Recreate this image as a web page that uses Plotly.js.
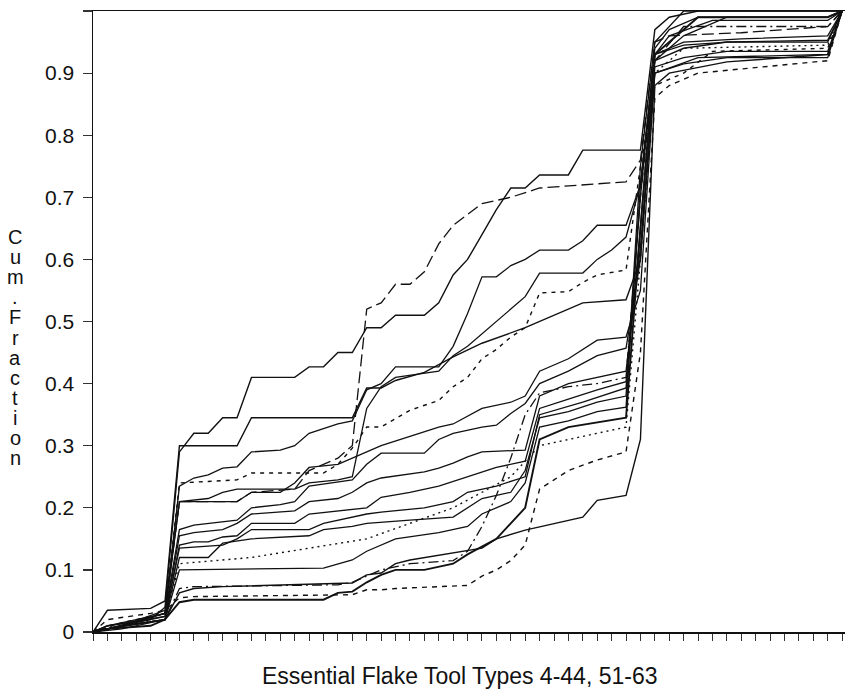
<!DOCTYPE html>
<html>
<head>
<meta charset="utf-8">
<script src="https://cdn.plot.ly/plotly-3.0.1.min.js"></script>
<style>html,body{margin:0;padding:0;background:#fff;}#chart{width:849px;height:689px;}</style>
</head>
<body>
<div id="chart"></div>
<script>
// x positions are indices of the tool-type ticks (0..52)
const typeTicks = [0,1,2,3,4,5,6,7,8,9,10,11,12,13,14,15,16,17,18,19,20,21,22,23,24,25,26,27,28,29,30,31,32,33,34,35,36,37,38,39,40,41,42,43,44,45,46,47,48,49,50,51,52];
const yTickVals = [0,0.1,0.2,0.3,0.4,0.5,0.6,0.7,0.8,0.9,1.0];
const yTickText = ['0','0.1','0.2','0.3','0.4','0.5','0.6','0.7','0.8','0.9',''];
const xTitle = 'Essential Flake Tool Types 4-44, 51-63';
const yTitleLetters = ['C','u','m','.','F','r','a','c','t','i','o','n'];

const xA = [0,1,4,5,6,7,8,9,10,11,14,15,16,17,18,19,20,21,23,24,25,26,27,28,29,30,31,33,34,38,39,40,42,52];
const yA = [0,0.01,0.02,0.04,0.29,0.32,0.32,0.345,0.345,0.41,0.41,0.427,0.427,0.45,0.45,0.49,0.49,0.51,0.51,0.53,0.575,0.60,0.64,0.68,0.715,0.715,0.736,0.736,0.776,0.776,0.97,0.99,1.0,1.0];
const xX = [0,2,5,6,10,11,14,15,17,18,19,20,21,22,23,24,25,26,27,28,29,31,37,38,39,40,45,51,52];
const yX = [0,0.01,0.03,0.21,0.21,0.225,0.23,0.26,0.28,0.30,0.52,0.53,0.56,0.56,0.58,0.625,0.655,0.672,0.69,0.695,0.70,0.715,0.725,0.76,0.95,0.96,0.965,0.975,1.0];
const xB = [0,1,4,5,6,10,11,18,19,20,21,23,25,27,30,32,34,37,38,39,41,44,51,52];
const yB = [0,0.035,0.038,0.05,0.30,0.30,0.345,0.345,0.393,0.393,0.405,0.418,0.443,0.465,0.49,0.51,0.53,0.535,0.60,0.92,0.94,0.95,0.953,1.0];
const xC = [0,2,5,6,7,8,9,10,11,13,14,15,17,18,19,20,21,24,25,26,27,28,29,30,31,33,34,35,37,38,39,41,45,51,52];
const yC = [0,0.01,0.03,0.235,0.248,0.253,0.264,0.266,0.29,0.293,0.30,0.32,0.335,0.34,0.39,0.40,0.427,0.427,0.46,0.513,0.572,0.572,0.59,0.60,0.615,0.615,0.63,0.655,0.655,0.72,0.93,0.95,0.955,0.96,1.0];
const xD = [0,2,5,6,10,11,16,17,18,19,20,22,24,25,26,27,28,29,30,31,33,34,35,37,38,39,41,43,51,52];
const yD = [0,0.015,0.03,0.24,0.245,0.256,0.256,0.27,0.296,0.33,0.33,0.357,0.373,0.395,0.41,0.44,0.455,0.475,0.49,0.546,0.548,0.563,0.575,0.583,0.75,0.88,0.9,0.935,0.94,1.0];
const xE1 = [0,1,5,6,8,9,10,14,15,17,18,19,20,21,24,25,26,28,29,30,31,34,35,36,37,38,39,41,44,51,52];
const yE1 = [0,0.005,0.03,0.21,0.215,0.225,0.23,0.23,0.24,0.245,0.25,0.36,0.395,0.41,0.42,0.445,0.46,0.50,0.52,0.54,0.578,0.578,0.60,0.615,0.636,0.72,0.93,0.945,0.95,0.95,1.0];
const xE2 = [0,2,5,6,10,11,13,14,15,17,18,19,20,22,24,25,27,29,30,31,33,35,37,38,39,42,51,52];
const yE2 = [0,0.01,0.035,0.21,0.21,0.225,0.225,0.24,0.265,0.27,0.28,0.29,0.30,0.315,0.33,0.335,0.36,0.37,0.38,0.42,0.44,0.47,0.475,0.55,0.9,0.925,0.93,1.0];
const xE3 = [0,1,5,6,7,9,10,11,13,14,15,18,19,20,23,24,25,27,28,29,30,31,33,35,37,38,39,41,44,51,52];
const yE3 = [0,0.01,0.03,0.165,0.172,0.177,0.18,0.2,0.205,0.21,0.235,0.245,0.27,0.288,0.288,0.31,0.32,0.33,0.333,0.352,0.368,0.40,0.42,0.445,0.457,0.6,0.91,0.925,0.935,0.935,1.0];
const xF = [0,2,5,6,7,9,10,11,14,15,17,18,19,20,23,24,25,26,27,30,31,33,35,37,38,39,41,44,51,52];
const yF = [0,0.01,0.025,0.155,0.16,0.165,0.175,0.19,0.195,0.21,0.215,0.225,0.24,0.248,0.258,0.264,0.272,0.282,0.29,0.293,0.38,0.40,0.41,0.42,0.62,0.9,0.915,0.925,0.925,1.0];
const xF2 = [0,2,5,6,7,8,9,10,11,14,15,19,20,22,24,26,28,30,31,33,35,37,38,39,40,43,51,52];
const yF2 = [0,0.005,0.02,0.14,0.145,0.145,0.153,0.155,0.175,0.175,0.19,0.2,0.217,0.225,0.235,0.25,0.265,0.275,0.36,0.375,0.39,0.403,0.65,0.93,0.96,0.985,0.985,1.0];
const xG = [0,1,5,6,9,10,11,15,16,18,19,20,23,25,26,28,30,31,34,37,38,39,40,42,51,52];
const yG = [0,0.01,0.025,0.135,0.14,0.15,0.165,0.165,0.175,0.185,0.19,0.193,0.2,0.21,0.225,0.235,0.25,0.35,0.37,0.393,0.7,0.94,0.97,0.99,0.99,1.0];
const xH = [0,2,5,6,8,9,11,15,16,18,19,20,22,25,26,27,29,30,31,33,35,37,38,39,41,52];
const yH = [0,0.01,0.02,0.12,0.12,0.143,0.15,0.155,0.165,0.17,0.175,0.177,0.18,0.185,0.2,0.215,0.225,0.26,0.345,0.355,0.37,0.38,0.75,0.95,1.0,1.0];
const xH2 = [0,1,5,6,16,17,18,19,20,21,24,26,27,29,30,31,33,35,37,38,39,41,44,51,52];
const yH2 = [0,0.005,0.02,0.10,0.103,0.11,0.116,0.13,0.14,0.15,0.16,0.17,0.19,0.21,0.24,0.33,0.34,0.355,0.362,0.72,0.92,0.96,0.99,0.99,1.0];
const xI = [0,2,5,6,7,17,18,19,20,22,25,26,27,28,29,30,31,33,35,37,38,39,41,51,52];
const yI = [0,0.01,0.02,0.07,0.073,0.076,0.08,0.09,0.1,0.11,0.115,0.13,0.17,0.22,0.28,0.35,0.385,0.395,0.40,0.41,0.7,0.92,0.975,0.975,1.0];
const xJ = [0,1,5,6,7,9,18,19,20,21,22,25,27,28,30,34,35,37,38,39,40,44,51,52];
const yJ = [0,0.005,0.02,0.063,0.07,0.073,0.079,0.092,0.095,0.11,0.116,0.127,0.135,0.15,0.164,0.185,0.212,0.22,0.31,0.88,0.9,0.918,0.93,1.0];
const xL = [0,1,4,5,6,7,16,17,18,19,20,21,23,25,26,28,30,31,33,37,38,39,42,51,52];
const yL = [0,0.005,0.01,0.02,0.048,0.052,0.052,0.063,0.065,0.08,0.092,0.1,0.1,0.11,0.125,0.15,0.2,0.31,0.33,0.345,0.65,0.93,0.99,0.99,1.0];
const xK = [0,1,4,5,6,7,18,19,20,21,26,27,28,29,30,31,32,33,35,37,38,39,40,42,51,52];
const yK = [0,0.02,0.03,0.035,0.055,0.057,0.06,0.068,0.068,0.07,0.075,0.09,0.1,0.115,0.14,0.23,0.245,0.26,0.277,0.29,0.45,0.86,0.88,0.9,0.92,1.0];
const xM = [0,2,5,6,11,19,25,29,31,35,37,38,39,41,51,52];
const yM = [0,0.01,0.02,0.11,0.12,0.15,0.2,0.25,0.3,0.32,0.33,0.6,0.9,0.94,0.945,1.0];

const series = [
  {x:xA,y:yA,dash:'solid',w:1.4},
  {x:xX,y:yX,dash:'12px,5px',w:1.3},
  {x:xB,y:yB,dash:'solid',w:1.4},
  {x:xC,y:yC,dash:'solid',w:1.3},
  {x:xD,y:yD,dash:'4px,5px',w:1.4},
  {x:xE1,y:yE1,dash:'solid',w:1.3},
  {x:xE2,y:yE2,dash:'solid',w:1.3},
  {x:xE3,y:yE3,dash:'solid',w:1.3},
  {x:xF,y:yF,dash:'solid',w:1.3},
  {x:xF2,y:yF2,dash:'solid',w:1.3},
  {x:xG,y:yG,dash:'solid',w:1.3},
  {x:xH,y:yH,dash:'solid',w:1.3},
  {x:xH2,y:yH2,dash:'solid',w:1.3},
  {x:xI,y:yI,dash:'10px,4px,2px,4px',w:1.3},
  {x:xJ,y:yJ,dash:'solid',w:1.4},
  {x:xL,y:yL,dash:'solid',w:1.9},
  {x:xK,y:yK,dash:'5px,5px',w:1.4},
  {x:xM,y:yM,dash:'2px,4px',w:1.4}
];

const traces = series.map(s => ({
  type:'scatter', mode:'lines', x:s.x, y:s.y,
  line:{color:'#111', width:s.w, dash:s.dash}, hoverinfo:'skip', showlegend:false
}));

const plotL = 93, plotT = 11, plotB = 632, plotR = 845;
const plotH = plotB - plotT, plotW = plotR - plotL;
const annotations = [];
const letterTop = 237, letterStep = 20.1;
yTitleLetters.forEach((ch, i) => {
  annotations.push({
    text: ch, showarrow:false, xref:'paper', yref:'paper',
    x: (15 - plotL)/plotW, y: (plotB - (letterTop + i*letterStep))/plotH,
    xanchor:'center', yanchor:'middle',
    font:{family:'Liberation Sans, Arial, sans-serif', size:20, color:'#111'}
  });
});
annotations.push({
  text: xTitle, showarrow:false, xref:'paper', yref:'paper',
  x: (460 - plotL)/plotW, y: (plotB - 676)/plotH, xanchor:'center', yanchor:'middle',
  font:{family:'Liberation Sans, Arial, sans-serif', size:23, color:'#111'}
});

const layout = {
  width:849, height:689,
  margin:{l:plotL, r:849-plotR, t:plotT, b:689-plotB, pad:0},
  paper_bgcolor:'#fff', plot_bgcolor:'#fff',
  font:{family:'Liberation Sans, Arial, sans-serif', color:'#111'},
  xaxis:{
    range:[0, 52.2], tickmode:'array', tickvals:typeTicks, showticklabels:false,
    ticks:'outside', ticklen:7, tickwidth:1, tickcolor:'#333',
    showline:true, linecolor:'#111', linewidth:1.5, mirror:true,
    showgrid:false, zeroline:false, fixedrange:true
  },
  yaxis:{
    range:[0,1.0], tickmode:'array', tickvals:yTickVals, ticktext:yTickText,
    ticks:'outside', ticklen:9, tickwidth:1.2, tickcolor:'#333',
    tickfont:{family:'Liberation Sans, Arial, sans-serif', size:21, color:'#111'},
    ticklabelstandoff:4,
    showline:true, linecolor:'#111', linewidth:1.5,
    showgrid:false, zeroline:false, fixedrange:true
  },
  annotations: annotations,
  showlegend:false
};

Plotly.newPlot('chart', traces, layout, {staticPlot:true, displayModeBar:false});
</script>
</body>
</html>
